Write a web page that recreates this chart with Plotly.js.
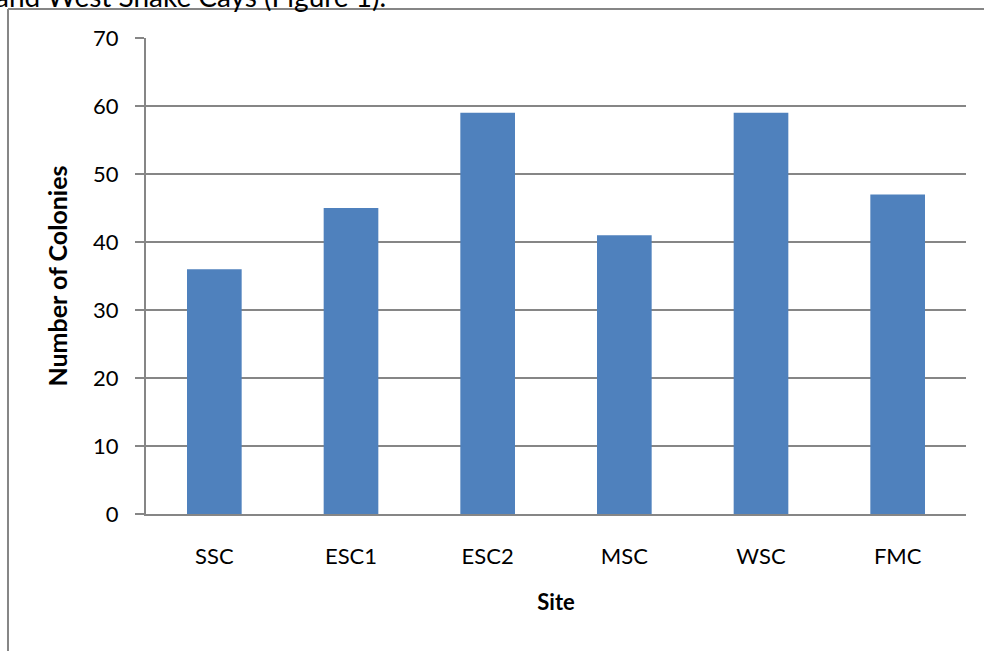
<!DOCTYPE html>
<html>
<head>
<meta charset="utf-8">
<script src="https://cdn.plot.ly/plotly-3.0.1.min.js"></script>
<style>html,body{margin:0;padding:0;background:#fff;overflow:hidden}#chart{width:984px;height:651px}</style>
</head>
<body>
<div id="chart"></div>
<script>
const sites = ["SSC", "ESC1", "ESC2", "MSC", "WSC", "FMC"];
const colonies = [36, 45, 59, 41, 59, 47];
const yTicks = [0, 10, 20, 30, 40, 50, 60, 70];
const headerText = "and West Snake Cays (Figure 1).";

const FONT = "Lato, Liberation Sans, Arial, sans-serif";

const trace = {
  type: "bar",
  x: sites,
  y: colonies,
  marker: {color: "#4F81BD"},
  width: 0.4,
  hoverinfo: "x+y"
};

const layout = {
  width: 984,
  height: 651,
  margin: {l: 146, r: 18, t: 38, b: 137},
  paper_bgcolor: "#ffffff",
  plot_bgcolor: "#ffffff",
  showlegend: false,
  font: {family: FONT, size: 22, color: "#000"},
  xaxis: {
    showgrid: false,
    showline: true,
    linecolor: "#868686",
    linewidth: 2,
    ticks: "",
    tickfont: {size: 22},
    ticklabelstandoff: 22,
    title: {text: "<b>Site</b>", font: {size: 22}, standoff: 26},
    automargin: false
  },
  yaxis: {
    range: [0, 70],
    tickvals: yTicks,
    showgrid: true,
    gridcolor: "#868686",
    gridwidth: 1.5,
    showline: true,
    linecolor: "#868686",
    linewidth: 2,
    ticks: "outside",
    ticklen: 9,
    tickwidth: 1.5,
    tickcolor: "#868686",
    zeroline: false,
    tickfont: {size: 22},
    ticklabelstandoff: 12,
    title: {text: "<b>Number of Colonies</b>", font: {size: 25}, standoff: 18},
    automargin: false
  },
  shapes: [
    {type: "line", xref: "paper", yref: "paper", x0: -0.1683, x1: -0.1683, y0: 1.0609, y1: -0.30, line: {color: "#868686", width: 2}},
    {type: "line", xref: "paper", yref: "paper", x0: -0.1683, x1: 1.03, y0: 1.0609, y1: 1.0609, line: {color: "#868686", width: 2}}
  ],
  annotations: [
    {text: headerText, xref: "paper", yref: "paper", x: -0.186, y: 1.089, xanchor: "left", yanchor: "middle", showarrow: false, font: {family: FONT, size: 28, color: "#000"}}
  ]
};

Plotly.newPlot("chart", [trace], layout, {displayModeBar: false, staticPlot: true});
</script>
</body>
</html>
